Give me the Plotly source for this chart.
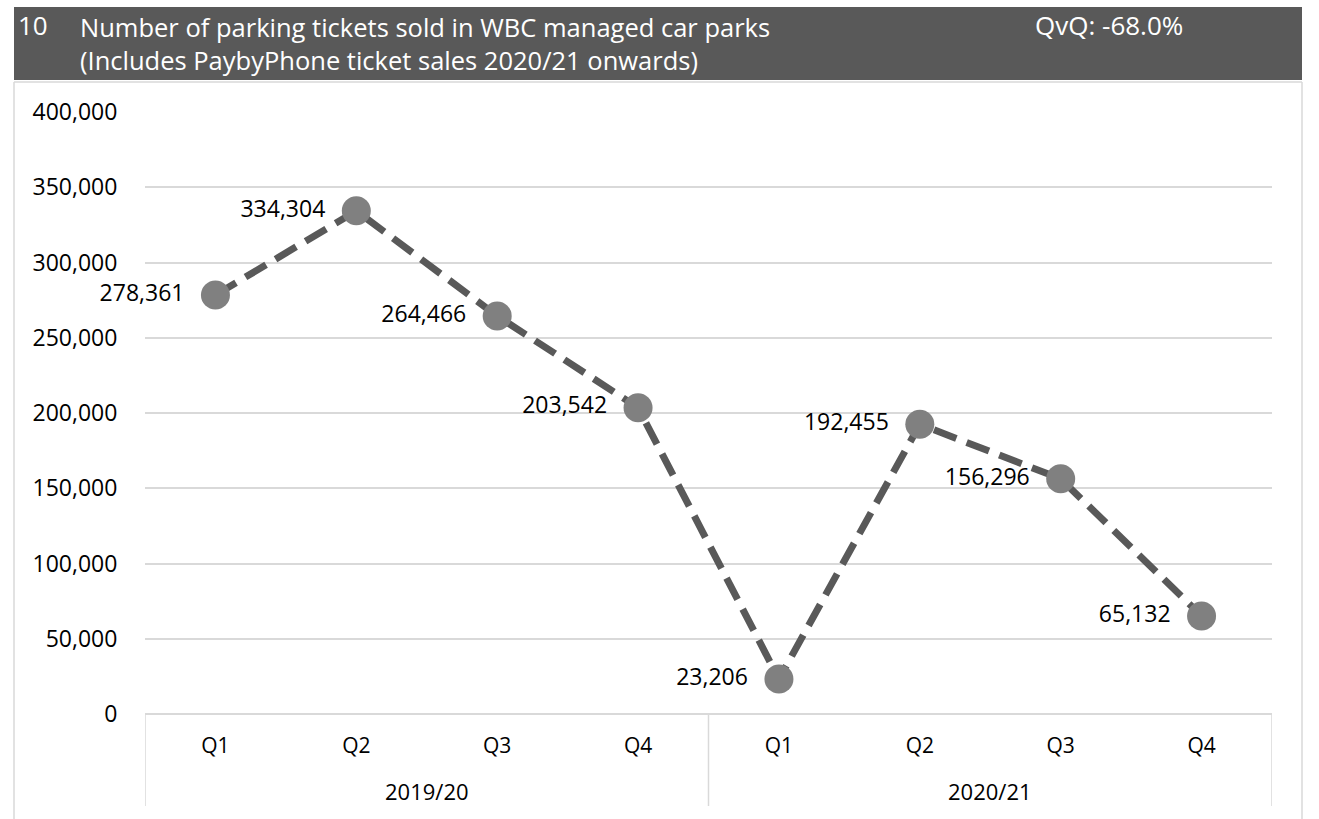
import plotly.graph_objects as go

# Quarterly parking ticket sales
years = ["2019/20", "2020/21"]
quarters = ["Q1", "Q2", "Q3", "Q4"]
tickets = [278361, 334304, 264466, 203542, 23206, 192455, 156296, 65132]
y_ticks = [0, 50000, 100000, 150000, 200000, 250000, 300000, 350000, 400000]

title_no = "10"
title_text = "Number of parking tickets sold in WBC managed car parks<br>(Includes PaybyPhone ticket sales 2020/21 onwards)"
qvq_text = "QvQ: -68.0%"

W, H = 1319, 819
L, R, T, B = 145, 1272, 112, 714
FONT = "Open Sans"


def px(x):
    return (x - L) / (R - L)


def py(y):
    return (B - y) / (B - T)


x_idx = list(range(len(years) * len(quarters)))
x_text = quarters * len(years)
labels = [f"{v:,}" for v in tickets]

fig = go.Figure()
fig.add_trace(go.Scatter(
    x=x_idx, y=tickets,
    mode="lines+markers",
    line=dict(color="#595959", width=7, dash="24px,11px"),
    marker=dict(size=29, color="#808080"),
    cliponaxis=False, showlegend=False, hoverinfo="skip",
))
# value labels, set a little left of each point
fig.add_trace(go.Scatter(
    x=x_idx, y=tickets,
    mode="markers+text",
    marker=dict(size=48, opacity=0),
    text=labels, textposition="middle left",
    textfont=dict(family=FONT, size=23, color="#000000"),
    cliponaxis=False, showlegend=False, hoverinfo="skip",
))

shapes = [
    # header bar
    dict(type="rect", xref="paper", yref="paper", x0=px(14), x1=px(1302), y0=py(7), y1=py(80),
         fillcolor="#595959", line=dict(width=0), layer="below"),
    # chart frame
    dict(type="line", xref="paper", yref="paper", x0=px(14), x1=px(1302), y0=py(82), y1=py(82),
         line=dict(color="#d9d9d9", width=1.5)),
    dict(type="line", xref="paper", yref="paper", x0=px(14), x1=px(14), y0=py(82), y1=py(830),
         line=dict(color="#d9d9d9", width=1.5)),
    dict(type="line", xref="paper", yref="paper", x0=px(1302), x1=px(1302), y0=py(82), y1=py(830),
         line=dict(color="#d9d9d9", width=1.5)),
]
# group dividers under the category axis
n = len(quarters)
for k in range(len(years) + 1):
    xv = k * n - 0.5
    shapes.append(dict(type="line", xref="x", yref="paper", x0=xv, x1=xv, y0=0, y1=py(806),
                       line=dict(color="#d9d9d9", width=1.5)))

annotations = [
    dict(text=title_no, xref="paper", yref="paper", x=px(16), y=py(25), xanchor="left", yanchor="middle",
         showarrow=False, font=dict(family=FONT, size=26, color="#ffffff")),
    dict(text=title_text, xref="paper", yref="paper", x=px(78), y=py(43), xanchor="left", yanchor="middle",
         align="left", showarrow=False, font=dict(family=FONT, size=25.5, color="#ffffff")),
    dict(text=qvq_text, xref="paper", yref="paper", x=px(1033), y=py(25), xanchor="left", yanchor="middle",
         showarrow=False, font=dict(family=FONT, size=26, color="#ffffff")),
]
for k, yr in enumerate(years):
    annotations.append(dict(text=yr, xref="x", yref="paper", x=k * n + (n - 1) / 2, y=py(791),
                            xanchor="center", yanchor="middle", showarrow=False,
                            font=dict(family=FONT, size=22, color="#000000")))

fig.update_layout(
    width=W, height=H,
    margin=dict(l=L, r=W - R, t=T, b=H - B, pad=0),
    paper_bgcolor="#ffffff", plot_bgcolor="#ffffff",
    shapes=shapes, annotations=annotations,
    xaxis=dict(range=[-0.5, len(x_idx) - 0.5], tickvals=x_idx, ticktext=x_text,
               showgrid=False, zeroline=False, showline=False,
               ticks="outside", ticklen=13, tickcolor="rgba(0,0,0,0)",
               tickfont=dict(family=FONT, size=21, color="#000000")),
    yaxis=dict(range=[0, 400000], tickvals=y_ticks, ticktext=[f"{v:,}" for v in y_ticks],
               showgrid=True, gridcolor="#d9d9d9", gridwidth=1.5,
               zeroline=True, zerolinecolor="#d9d9d9", zerolinewidth=1.5, showline=False,
               ticks="outside", ticklen=22, tickcolor="rgba(0,0,0,0)",
               tickfont=dict(family=FONT, size=23, color="#000000")),
)

fig.write_html("out.html")
